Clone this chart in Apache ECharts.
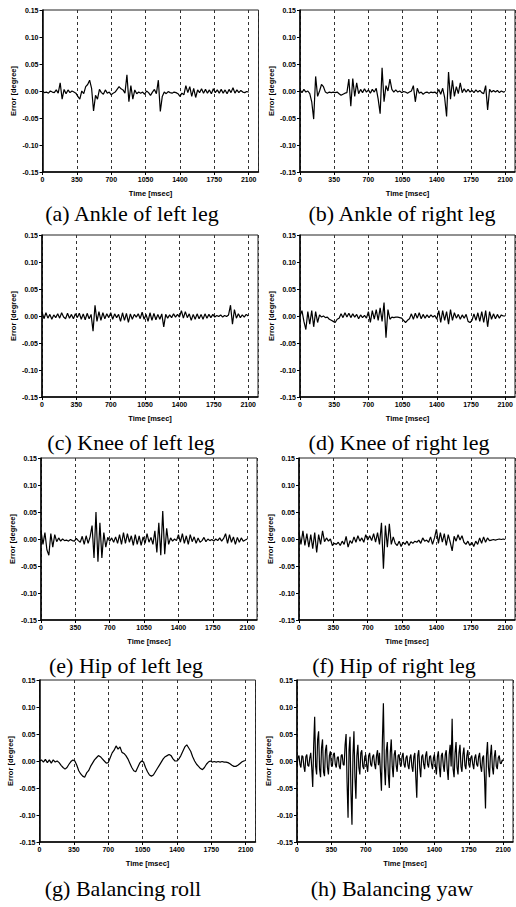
<!DOCTYPE html>
<html>
<head>
<meta charset="utf-8">
<script src="https://cdn.jsdelivr.net/npm/echarts@6/dist/echarts.min.js"></script>
<style>
  html, body { margin: 0; padding: 0; background: #fff; }
  #main { width: 516px; height: 907px; }
</style>
</head>
<body>
<div id="main"></div>
<script>
// every record runs from 0 to 2100 msec with evenly spaced samples
const T_END = 2100

const captions = [
  '(a) Ankle of left leg', '(b) Ankle of right leg',
  '(c) Knee of left leg', '(d) Knee of right leg',
  '(e) Hip of left leg', '(f) Hip of right leg',
  '(g) Balancing roll', '(h) Balancing yaw'
]

// 20 msec samples
const ankleLeft = [
  0.000, -0.003, -0.002, -0.004, 0.000, -0.002, -0.003, 0.002, -0.004, 0.015,
  -0.015, 0.003, -0.005, 0.002, -0.003, 0.000, -0.002, -0.004, -0.010, -0.015,
  0.000, -0.005, 0.008, 0.012, 0.020, 0.005, -0.037, -0.008, -0.015, 0.003,
  -0.003, -0.006, 0.002, -0.004, -0.002, -0.007, -0.004, -0.002, 0.003, 0.008,
  0.004, 0.002, -0.004, 0.030, -0.020, 0.010, -0.015, 0.002, -0.005, -0.002,
  -0.004, -0.002, -0.006, 0.000, -0.003, -0.008, -0.002, 0.003, -0.005, 0.020,
  -0.038, -0.010, -0.002, -0.005, -0.001, -0.003, -0.004, -0.002, -0.003, -0.005,
  -0.010, -0.004, -0.007, 0.010, -0.003, 0.008, -0.010, 0.005, -0.012, 0.002,
  -0.003, 0.004, -0.004, 0.003, -0.004, 0.002, -0.005, 0.004, -0.003, 0.002,
  -0.004, 0.003, -0.004, 0.002, -0.005, 0.003, -0.003, 0.006, -0.004, 0.002,
  -0.003, 0.001, -0.002, -0.003, -0.001, -0.002
]

const ankleRight = [
  0.002, -0.003, 0.003, -0.002, 0.000, -0.005, -0.020, -0.052, 0.027, -0.010,
  0.000, 0.012, 0.008, -0.002, -0.004, -0.002, -0.003, -0.002, -0.003, -0.002,
  -0.005, -0.008, -0.006, -0.004, -0.003, 0.022, -0.028, 0.023, -0.010, 0.015,
  -0.005, 0.003, -0.003, 0.004, -0.002, 0.002, -0.004, 0.003, -0.002, 0.005,
  -0.015, -0.042, 0.043, -0.020, 0.010, 0.000, 0.022, 0.003, -0.002, 0.002,
  -0.002, 0.000, -0.003, -0.001, -0.002, -0.004, -0.002, 0.000, 0.010, -0.020,
  0.005, -0.004, -0.002, -0.006, -0.003, -0.002, -0.004, -0.002, -0.003, -0.002,
  -0.005, 0.003, -0.006, 0.005, -0.012, -0.047, 0.035, -0.015, 0.020, -0.010,
  0.008, -0.005, 0.015, -0.003, 0.004, -0.002, 0.003, -0.002, 0.001, -0.003,
  0.002, -0.002, 0.001, -0.003, -0.005, 0.010, -0.035, 0.003, -0.002, 0.001,
  -0.002, 0.001, -0.003, 0.000, -0.002, -0.001
]

const kneeLeft = [
  0.008, -0.005, 0.006, -0.004, 0.003, -0.006, 0.002, -0.003, 0.004, -0.004,
  0.006, -0.002, -0.005, 0.005, -0.004, 0.003, -0.005, 0.004, -0.003, 0.005,
  -0.006, 0.004, -0.007, 0.005, -0.005, 0.003, -0.028, 0.020, -0.010, 0.008,
  -0.008, 0.006, -0.005, 0.004, -0.003, 0.006, -0.006, 0.004, -0.003, 0.003,
  -0.010, 0.006, -0.008, 0.005, -0.012, 0.004, -0.006, 0.003, -0.002, 0.004,
  -0.005, 0.007, -0.006, 0.003, -0.010, 0.006, -0.008, 0.005, -0.007, 0.003,
  -0.006, 0.004, -0.020, 0.003, -0.004, 0.002, -0.003, 0.004, -0.002, 0.003,
  -0.002, 0.010, -0.004, 0.008, -0.003, 0.004, -0.008, 0.003, -0.006, 0.004,
  -0.005, 0.003, -0.006, 0.004, -0.004, 0.003, -0.003, 0.003, -0.002, 0.001,
  -0.001, 0.002, -0.002, 0.001, -0.001, 0.002, 0.020, -0.015, 0.012, -0.004,
  0.004, -0.003, 0.002, -0.002, 0.003, 0.000
]

const kneeRight = [
  0.000, 0.010, -0.010, -0.025, 0.008, -0.015, 0.010, -0.020, 0.008, -0.012,
  0.002, -0.002, 0.000, -0.003, -0.002, -0.006, -0.008, -0.010, -0.012, -0.006,
  -0.004, 0.004, -0.003, 0.006, -0.002, 0.005, -0.003, 0.004, -0.002, 0.003,
  -0.005, 0.002, -0.003, 0.001, -0.004, 0.008, -0.012, 0.010, -0.006, 0.012,
  -0.008, 0.015, -0.010, 0.025, -0.040, 0.012, -0.006, -0.002, -0.003, -0.002,
  -0.002, -0.003, -0.004, -0.008, -0.012, -0.008, -0.005, 0.004, -0.006, 0.005,
  -0.004, 0.006, -0.005, 0.003, -0.004, 0.002, -0.003, 0.002, -0.002, 0.001,
  -0.006, 0.010, -0.012, 0.010, -0.008, 0.008, -0.015, 0.012, -0.008, 0.006,
  -0.004, 0.003, -0.006, 0.002, -0.004, 0.003, -0.010, -0.012, -0.008, 0.004,
  -0.008, 0.006, -0.010, 0.008, -0.012, 0.010, -0.020, 0.008, -0.006, 0.004,
  -0.005, 0.003, -0.004, 0.002, 0.000, 0.000
]

const hipLeft = [
  0.015, -0.010, 0.012, -0.020, -0.030, 0.010, -0.015, 0.008, -0.005, 0.002,
  -0.004, 0.000, -0.003, -0.002, -0.004, -0.001, -0.003, -0.004, 0.001, -0.003,
  -0.006, 0.005, -0.010, 0.006, -0.008, 0.004, 0.025, -0.035, 0.050, -0.042,
  0.030, -0.035, 0.012, -0.015, 0.003, -0.004, 0.002, -0.006, 0.004, -0.008,
  0.008, -0.010, 0.012, -0.008, 0.010, -0.006, 0.006, -0.012, 0.008, -0.010,
  0.006, -0.012, 0.004, -0.008, 0.010, -0.006, 0.003, -0.010, 0.015, -0.025,
  0.030, -0.030, 0.052, -0.028, 0.020, -0.010, 0.002, -0.004, 0.000, -0.003,
  0.008, -0.006, 0.010, -0.008, 0.006, -0.010, 0.008, -0.005, 0.004, -0.008,
  0.002, -0.006, -0.003, 0.003, -0.005, 0.000, -0.003, -0.001, -0.004, 0.000,
  -0.003, 0.002, -0.004, 0.001, 0.010, -0.008, 0.008, -0.006, 0.004, -0.010,
  0.003, -0.006, 0.002, -0.004, -0.002, 0.000
]

const hipRight = [
  0.012, -0.010, 0.015, -0.012, 0.010, -0.015, 0.008, -0.018, 0.012, -0.025,
  0.008, -0.010, 0.015, -0.005, 0.002, -0.004, 0.000, -0.012, -0.008, -0.010,
  -0.006, -0.012, -0.004, -0.010, 0.005, -0.015, -0.003, -0.008, 0.004, -0.006,
  0.006, -0.004, 0.002, -0.006, 0.008, -0.002, 0.006, -0.003, 0.010, -0.006,
  0.012, -0.010, 0.030, -0.055, 0.025, -0.015, 0.028, -0.010, 0.004, -0.008,
  -0.012, -0.004, -0.014, -0.006, -0.010, -0.004, -0.012, -0.005, -0.008, -0.004,
  -0.006, -0.002, -0.008, 0.002, -0.004, -0.002, -0.006, 0.004, -0.010, 0.002,
  0.018, -0.008, 0.012, -0.006, 0.010, -0.012, 0.008, -0.006, -0.022, 0.005,
  -0.004, 0.008, -0.002, 0.006, -0.006, -0.010, -0.004, -0.012, -0.006, -0.014,
  -0.004, -0.010, 0.002, -0.008, 0.004, -0.006, 0.002, -0.003, -0.002, -0.001,
  -0.002, -0.001, 0.000, -0.001, 0.000, -0.001
]

const balanceRoll = [
  0.000, 0.002, -0.002, 0.003, -0.003, 0.002, -0.004, 0.002, -0.002, 0.000,
  -0.003, -0.008, -0.012, -0.015, -0.012, -0.006, -0.001, 0.002, 0.000, -0.008,
  -0.018, -0.024, -0.028, -0.030, -0.022, -0.018, -0.010, -0.004, 0.002, 0.006,
  0.010, 0.008, 0.004, 0.000, -0.004, -0.003, 0.006, 0.015, 0.020, 0.028,
  0.022, 0.026, 0.016, 0.014, 0.010, 0.004, -0.004, -0.012, -0.018, -0.020,
  -0.012, -0.004, 0.000, -0.002, -0.012, -0.020, -0.026, -0.028, -0.026, -0.020,
  -0.014, -0.008, -0.002, 0.004, 0.008, 0.010, 0.012, 0.010, 0.004, 0.000,
  0.000, 0.004, 0.010, 0.018, 0.026, 0.030, 0.024, 0.018, 0.008, 0.000,
  -0.006, -0.010, -0.014, -0.016, -0.012, -0.006, -0.002, 0.000, -0.002, -0.001,
  -0.002, -0.001, -0.002, -0.001, -0.002, -0.002, -0.003, -0.005, -0.008, -0.010,
  -0.010, -0.008, -0.005, -0.002, 0.000, 0.001
]

// 10 msec samples, the yaw record is much busier
const balanceYaw = [
  -0.008, 0.006, 0.010, -0.006, -0.012, 0.010, 0.008, -0.010, -0.020, 0.008,
  0.012, -0.008, -0.010, 0.006, 0.015, -0.012, -0.048, 0.030, 0.082, -0.010,
  -0.025, 0.040, 0.055, -0.015, -0.030, 0.025, 0.040, -0.020, -0.028, 0.020,
  0.030, -0.012, -0.025, 0.010, 0.018, -0.008, -0.010, 0.012, 0.015, -0.006,
  -0.012, 0.006, 0.008, -0.010, -0.015, 0.010, 0.012, -0.006, -0.008, 0.030,
  0.050, -0.040, -0.105, 0.020, 0.045, -0.060, -0.118, 0.010, 0.055, -0.030,
  -0.070, 0.010, 0.030, -0.012, -0.025, 0.015, 0.020, -0.010, -0.015, 0.008,
  0.012, -0.008, -0.020, 0.010, 0.015, -0.006, -0.010, 0.008, 0.012, -0.006,
  -0.015, 0.010, 0.020, -0.008, 0.015, -0.020, -0.055, 0.040, 0.107, -0.010,
  -0.045, 0.020, 0.035, -0.025, -0.050, 0.015, 0.040, -0.010, -0.030, 0.012,
  0.020, -0.008, -0.020, 0.010, 0.012, -0.006, -0.010, 0.008, 0.015, -0.006,
  -0.012, 0.006, 0.010, -0.008, -0.015, 0.006, 0.012, -0.010, -0.020, 0.008,
  0.015, -0.030, -0.068, 0.010, 0.020, -0.012, -0.030, 0.008, 0.012, -0.006,
  -0.015, 0.010, 0.018, -0.006, -0.012, 0.008, 0.010, -0.006, -0.015, 0.006,
  0.012, -0.010, -0.025, 0.008, 0.018, -0.012, -0.030, 0.010, 0.015, -0.008,
  -0.020, 0.012, 0.020, -0.015, -0.035, 0.012, 0.030, -0.010, 0.078, -0.015,
  -0.030, 0.015, 0.035, -0.012, -0.025, 0.015, 0.030, -0.010, -0.020, 0.012,
  0.025, -0.008, -0.015, 0.010, 0.020, -0.006, -0.012, 0.006, 0.010, -0.006,
  -0.015, 0.006, 0.012, -0.006, -0.010, 0.008, 0.015, -0.010, -0.020, 0.006,
  0.010, -0.030, -0.088, 0.010, 0.035, -0.012, -0.030, 0.010, 0.030, -0.012,
  -0.025, 0.008, 0.020, -0.010, -0.015, 0.006, 0.010, -0.004, -0.005, 0.002,
  0.000
]

const signals = [ankleLeft, ankleRight, kneeLeft, kneeRight, hipLeft, hipRight, balanceRoll, balanceYaw]

// [grid left, grid top, caption centre x, caption centre y]
const layout = [
  [42.5, 10, 132, 213], [300, 10, 402, 213],
  [42, 235, 131, 442], [300, 235, 399, 442],
  [41, 458, 126, 665], [299, 458, 394, 665],
  [39.5, 680, 123, 888], [297, 680, 392, 888]
]

const tickFont = { fontFamily: 'Liberation Sans', fontSize: 7, fontWeight: 'bold', color: '#000' }

const grid = []
const xAxis = []
const yAxis = []
const series = []
const graphic = []

layout.forEach(([left, top, cx, cy], i) => {
  const values = signals[i]
  const step = T_END / (values.length - 1)
  grid.push({
    left, top, width: 216, height: 162,
    show: true, borderColor: '#222', borderWidth: 1
  })
  xAxis.push({
    gridIndex: i,
    type: 'value',
    min: 0, max: 2200, interval: 350,
    name: 'Time [msec]',
    nameLocation: 'middle',
    nameGap: 17,
    nameTextStyle: { ...tickFont, fontSize: 7.5 },
    axisLine: { onZero: false, lineStyle: { color: '#000', width: 1.5 } },
    axisTick: { length: 3, lineStyle: { color: '#000' } },
    axisLabel: { ...tickFont, margin: 4, showMaxLabel: false, formatter: v => String(v) },
    splitLine: { show: true, lineStyle: { type: [3, 3], color: '#333', width: 1 } }
  })
  yAxis.push({
    gridIndex: i,
    type: 'value',
    min: -0.15, max: 0.15, interval: 0.05,
    name: 'Error [degree]',
    nameLocation: 'middle',
    nameRotate: 90,
    nameGap: 25,
    nameTextStyle: { ...tickFont, fontSize: 7.5 },
    axisLine: { onZero: false, lineStyle: { color: '#000', width: 1.5 } },
    axisTick: { length: 3, lineStyle: { color: '#000' } },
    axisLabel: { ...tickFont, margin: 4, formatter: v => v.toFixed(2) },
    splitLine: { show: false }
  })
  series.push({
    type: 'line',
    xAxisIndex: i,
    yAxisIndex: i,
    data: values.map((v, k) => [k * step, v]),
    showSymbol: false,
    sampling: null,
    lineStyle: { color: '#000', width: 1.2 }
  })
  graphic.push({
    type: 'text',
    x: cx, y: cy,
    style: {
      text: captions[i],
      fontFamily: 'Liberation Serif',
      fontSize: 22,
      fill: '#000',
      align: 'center', verticalAlign: 'middle',
      textAlign: 'center', textVerticalAlign: 'middle'
    }
  })
})

const chart = echarts.init(document.getElementById('main'), null, { renderer: 'svg' })
chart.setOption({
  animation: false,
  backgroundColor: '#fff',
  grid, xAxis, yAxis, series, graphic
})
</script>
</body>
</html>
